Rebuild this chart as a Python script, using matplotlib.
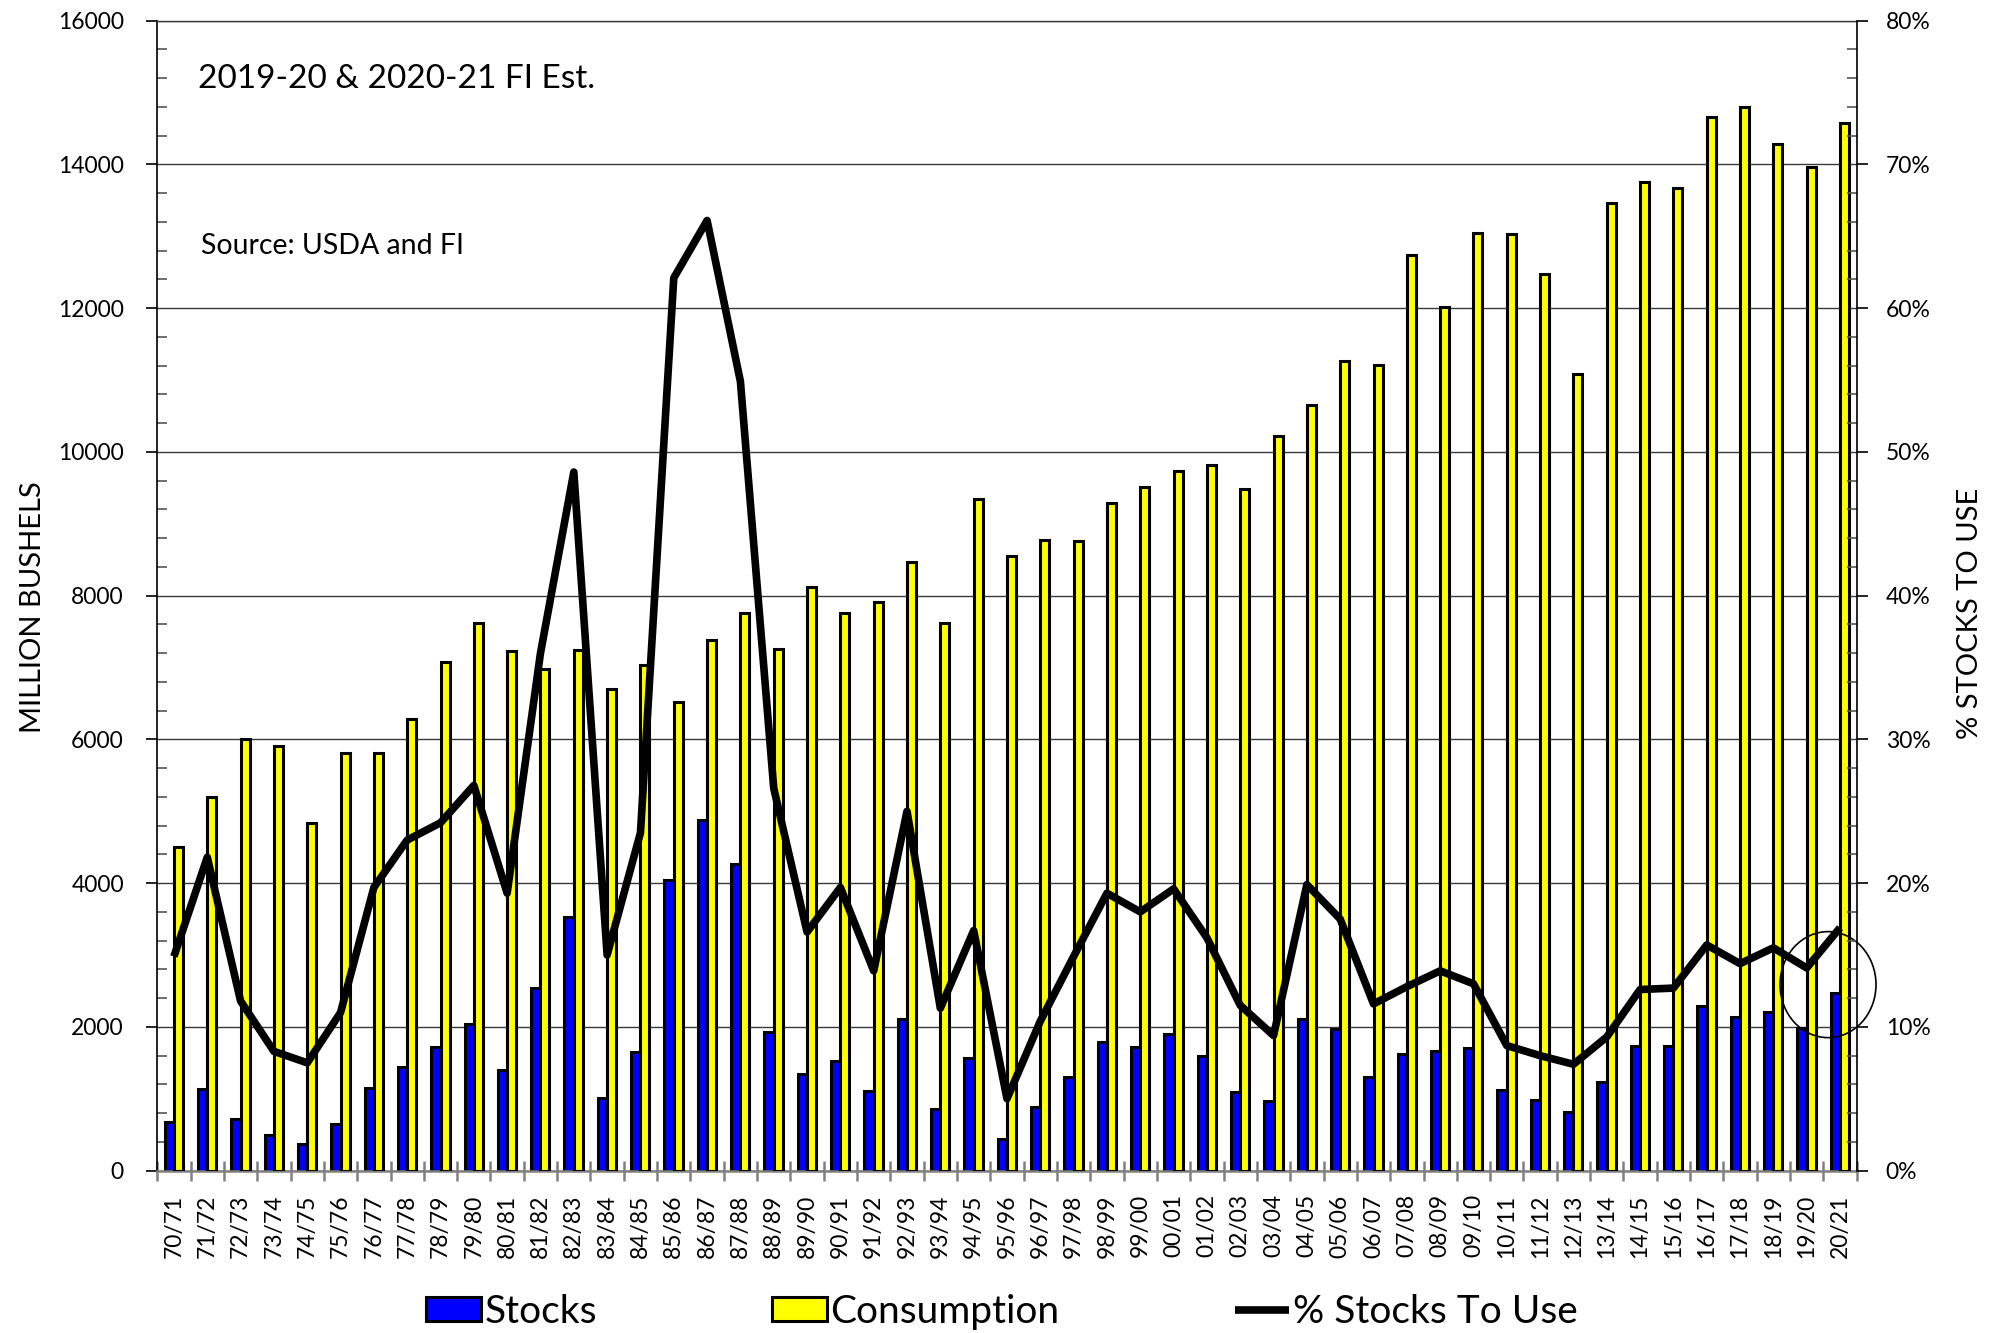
import numpy as np
import matplotlib
matplotlib.use('Agg')
import matplotlib.pyplot as plt
from matplotlib.patches import Ellipse
from matplotlib.ticker import MultipleLocator, FuncFormatter

plt.rcParams['font.family'] = ['Lato', 'DejaVu Sans']

# crop years
years = ['70/71', '71/72', '72/73', '73/74', '74/75', '75/76', '76/77', '77/78',
         '78/79', '79/80', '80/81', '81/82', '82/83', '83/84', '84/85', '85/86',
         '86/87', '87/88', '88/89', '89/90', '90/91', '91/92', '92/93', '93/94',
         '94/95', '95/96', '96/97', '97/98', '98/99', '99/00', '00/01', '01/02',
         '02/03', '03/04', '04/05', '05/06', '06/07', '07/08', '08/09', '09/10',
         '10/11', '11/12', '12/13', '13/14', '14/15', '15/16', '16/17', '17/18',
         '18/19', '19/20', '20/21']

# million bushels
stocks = [680, 1140, 720, 500, 375, 645, 1145, 1440, 1720, 2040,
          1395, 2540, 3525, 1015, 1650, 4045, 4885, 4270, 1930, 1350,
          1525, 1110, 2112, 858, 1562, 436, 886, 1309, 1792, 1718,
          1900, 1600, 1090, 966, 2110, 1965, 1302, 1620, 1670, 1710,
          1125, 985, 815, 1232, 1730, 1740, 2290, 2140, 2210, 1990, 2475]

consumption = [4500, 5192, 6002, 5905, 4832, 5808, 5808, 6288, 7075, 7620,
               7226, 6985, 7248, 6700, 7032, 6522, 7382, 7755, 7256, 8118,
               7755, 7918, 8475, 7618, 9345, 8548, 8778, 8764, 9292, 9510,
               9730, 9815, 9490, 10228, 10655, 11260, 11210, 12740, 12015, 13050,
               13030, 12482, 11078, 13458, 13756, 13668, 14655, 14800, 14290, 13968, 14572]

# percent stocks to use
pct_stu = [14.9, 21.8, 11.8, 8.3, 7.5, 11.0, 19.7, 23.0, 24.2, 26.8,
           19.3, 36.0, 48.6, 15.0, 23.5, 62.1, 66.1, 54.9, 26.6, 16.6,
           19.7, 13.9, 25.0, 11.3, 16.7, 5.0, 10.4, 14.9, 19.3, 18.0,
           19.6, 16.2, 11.5, 9.4, 19.9, 17.5, 11.6, 12.8, 13.9, 13.0,
           8.7, 8.0, 7.4, 9.3, 12.6, 12.7, 15.7, 14.4, 15.5, 14.1, 16.9]

x = np.arange(len(years))

fig = plt.figure(figsize=(19.96, 13.33), dpi=100)
ax = fig.add_axes([0.0788, 0.1218, 0.8514, 0.8627])

ax.set_axisbelow(True)
ax.yaxis.grid(True, which='major', color='#3a3a3a', lw=1.0)

b1 = ax.bar(x - 0.14, stocks, width=0.28, color='#0000FF', edgecolor='black',
            lw=2.2, label='Stocks', zorder=2)
b2 = ax.bar(x + 0.135, consumption, width=0.27, color='#FFFF00', edgecolor='black',
            lw=2.2, label='Consumption', zorder=3)

ax.set_xlim(-0.5, len(years) - 0.5)
ax.set_ylim(0, 16000)
ax.set_yticks(np.arange(0, 16001, 2000))
ax.yaxis.set_minor_locator(MultipleLocator(400))
ax.tick_params(axis='y', which='major', direction='out', length=8, width=1.2,
               labelsize=16.5, pad=16)
ax.tick_params(axis='y', which='minor', direction='in', length=7, width=1.2,
               color='#555555')

ax.set_xticks(x)
ax.set_xticklabels(years, rotation=90)
ax.set_xticks(np.arange(-0.5, len(years)), minor=True)
ax.tick_params(axis='x', which='major', length=0, labelsize=16.5, pad=17)
ax.tick_params(axis='x', which='minor', direction='inout', length=15, width=1.8,
               color='#808080')

ax.spines['bottom'].set_color('#808080')
ax.spines['bottom'].set_linewidth(1.8)
ax.spines['left'].set_linewidth(1.2)
ax.spines['top'].set_color('#3a3a3a')
ax.spines['top'].set_linewidth(1.0)
ax.spines['right'].set_visible(False)

ax.set_ylabel('MILLION BUSHELS', fontsize=21)
ax.yaxis.set_label_coords(-0.0655, 0.49)

ax.text(0.0237, 0.949, '2019-20 & 2020-21 FI Est.', transform=ax.transAxes,
        fontsize=24, va='center', ha='left')
ax.text(0.0257, 0.804, 'Source: USDA and FI', transform=ax.transAxes,
        fontsize=20.5, va='center', ha='left')

# circle around the estimate years
circ = Ellipse((49.64, 2588), width=2.88, height=1475, fill=False,
               edgecolor='black', lw=1.2, zorder=6, clip_on=False)
ax.add_patch(circ)

ax2 = ax.twinx()
ln, = ax2.plot(x, pct_stu, color='black', lw=5.5, label='% Stocks To Use',
               solid_joinstyle='round', solid_capstyle='butt')
ax2.set_ylim(0, 80)
ax2.set_yticks(np.arange(0, 81, 10))
ax2.yaxis.set_major_formatter(FuncFormatter(lambda v, p: '%d%%' % v))
ax2.yaxis.set_minor_locator(MultipleLocator(2))
ax2.tick_params(axis='y', which='major', direction='out', length=8, width=1.2,
                labelsize=16.5, pad=13)
ax2.tick_params(axis='y', which='minor', direction='in', length=7, width=1.2,
                color='#555555')
for s in ['top', 'bottom', 'left']:
    ax2.spines[s].set_visible(False)
ax2.spines['right'].set_linewidth(1.2)
ax2.set_ylabel('% STOCKS TO USE', fontsize=21, rotation=90)
ax2.yaxis.set_label_coords(1.059, 0.485)

fig.legend([b1, b2, ln], ['Stocks', 'Consumption', '% Stocks To Use'],
           loc='center', bbox_to_anchor=(0.502, 0.016), ncol=3, frameon=False,
           fontsize=28, handlelength=1.4, handleheight=0.6, handletextpad=0.1,
           columnspacing=4.5, borderpad=0, borderaxespad=0)

fig.savefig('out.png', dpi=100)
